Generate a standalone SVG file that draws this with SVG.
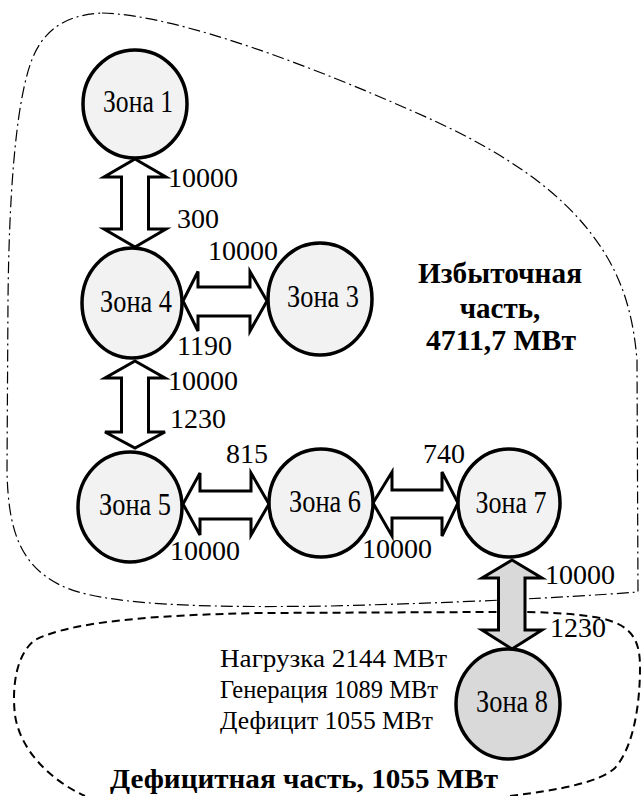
<svg xmlns="http://www.w3.org/2000/svg" width="643" height="796" viewBox="0 0 643 796">
  <style>
    .zone { fill: #f2f2f2; stroke: #000; stroke-width: 3.5; }
    .zone.deficit { fill: #d9d9d9; }
    .link { fill: #fff; stroke: #000; stroke-width: 3; stroke-linejoin: miter; }
    .link.tie { fill: #d9d9d9; }
    .surplus { fill: none; stroke: #000; stroke-width: 1.2; stroke-dasharray: 12 4 2 4; }
    .deficit-area { fill: none; stroke: #000; stroke-width: 2; stroke-dasharray: 8 5; }
  </style>

  <!-- area boundaries -->
  <g id="areas">
    <path id="surplus-area" class="surplus" d="M 102,13 C 180,15 320,70 410,110 C 480,140 540,175 580,220 C 615,260 632,300 637,360 L 638,592 C 560,598 450,603 330,606 C 200,608 100,605 60,585 C 20,565 8,530 7,470 L 8,300 C 9,200 15,110 30,65 C 40,35 60,15 102,13 Z"/>
    <path id="deficit-area" class="deficit-area" d="M 510,796 C 560,790 600,782 615,768 C 635,745 640,700 640,667 C 640,640 632,625 600,618 C 560,611 520,612 490,612 L 260,613 C 150,615 70,622 35,640 C 15,655 12,690 15,715 C 20,750 50,780 85,796"/>
  </g>

  <!-- connectors: double-headed transfer arrows -->
  <g id="connectors">
    <!-- Zone 1 <-> Zone 4 -->
    <polygon class="link" points="135,159 166,177 148.5,177 148.5,229 166,229 135,247 104,229 121.5,229 121.5,177 104,177"/>
    <!-- Zone 4 <-> Zone 3 -->
    <polygon class="link" points="183,301 198,271.5 198,287 250,287 250,271.5 267,301 250,331 250,316 198,316 198,331"/>
    <!-- Zone 4 <-> Zone 5 -->
    <polygon class="link" points="135,361 165,378 148.5,378 148.5,432 165,432 135,448 105,432 121.5,432 121.5,378 105,378"/>
    <!-- Zone 5 <-> Zone 6 -->
    <polygon class="link" points="183,504 200,473 200,491 251,491 251,473 269,504 251,535 251,519 200,519 200,535"/>
    <!-- Zone 6 <-> Zone 7 -->
    <polygon class="link" points="373,503 392,472 392,490 442,490 442,472 458,503 442,536 442,518 392,518 392,536"/>
    <!-- Zone 7 <-> Zone 8 (tie between areas) -->
    <polygon class="link tie" points="512,560 542,578 525,578 525,630 542,630 512,649 482,630 498.5,630 498.5,578 482,578"/>
  </g>

  <!-- transfer limits -->
  <g id="limits">
    <text x="168" y="187" font-family="Liberation Serif" font-size="28">10000</text>
    <text x="177" y="228" font-family="Liberation Serif" font-size="28">300</text>
    <text x="208" y="260" font-family="Liberation Serif" font-size="28">10000</text>
    <text x="177" y="355" font-family="Liberation Serif" font-size="28">1190</text>
    <text x="168" y="390" font-family="Liberation Serif" font-size="28">10000</text>
    <text x="170" y="428" font-family="Liberation Serif" font-size="28">1230</text>
    <text x="226" y="463" font-family="Liberation Serif" font-size="28">815</text>
    <text x="423" y="463" font-family="Liberation Serif" font-size="28">740</text>
    <text x="170" y="560" font-family="Liberation Serif" font-size="28">10000</text>
    <text x="362" y="558" font-family="Liberation Serif" font-size="28">10000</text>
    <text x="545" y="584" font-family="Liberation Serif" font-size="28">10000</text>
    <text x="550" y="637" font-family="Liberation Serif" font-size="28">1230</text>
  </g>

  <g id="zone1">
    <ellipse class="zone" cx="135" cy="104" rx="52" ry="54"/>
    <text x="138" y="112" font-family="Liberation Serif" font-size="31" text-anchor="middle" textLength="70" lengthAdjust="spacingAndGlyphs">Зона 1</text>
  </g>
  <g id="zone4">
    <ellipse class="zone" cx="132" cy="303" rx="50" ry="55"/>
    <text x="136" y="312" font-family="Liberation Serif" font-size="31" text-anchor="middle" textLength="72" lengthAdjust="spacingAndGlyphs">Зона 4</text>
  </g>
  <g id="zone3">
    <ellipse class="zone" cx="320" cy="299" rx="52" ry="56"/>
    <text x="323" y="307" font-family="Liberation Serif" font-size="31" text-anchor="middle" textLength="72" lengthAdjust="spacingAndGlyphs">Зона 3</text>
  </g>
  <g id="zone5">
    <ellipse class="zone" cx="130" cy="507" rx="52" ry="55"/>
    <text x="135" y="515" font-family="Liberation Serif" font-size="31" text-anchor="middle" textLength="72" lengthAdjust="spacingAndGlyphs">Зона 5</text>
  </g>
  <g id="zone6">
    <ellipse class="zone" cx="321" cy="503" rx="52" ry="54"/>
    <text x="325" y="512" font-family="Liberation Serif" font-size="31" text-anchor="middle" textLength="72" lengthAdjust="spacingAndGlyphs">Зона 6</text>
  </g>
  <g id="zone7">
    <ellipse class="zone" cx="509" cy="503" rx="51" ry="54"/>
    <text x="511" y="513" font-family="Liberation Serif" font-size="31" text-anchor="middle" textLength="71" lengthAdjust="spacingAndGlyphs">Зона 7</text>
  </g>
  <g id="zone8">
    <ellipse class="zone deficit" cx="508" cy="704" rx="52" ry="55"/>
    <text x="512" y="712" font-family="Liberation Serif" font-size="31" text-anchor="middle" textLength="72" lengthAdjust="spacingAndGlyphs">Зона 8</text>
  </g>

  <!-- surplus area caption -->
  <g id="surplus-caption">
    <text x="500" y="283" font-family="Liberation Serif" font-size="29" font-weight="bold" text-anchor="middle" textLength="164" lengthAdjust="spacingAndGlyphs">Избыточная</text>
    <text x="500" y="318" font-family="Liberation Serif" font-size="29" font-weight="bold" text-anchor="middle">часть,</text>
    <text x="501" y="350" font-family="Liberation Serif" font-size="29" font-weight="bold" text-anchor="middle" textLength="150" lengthAdjust="spacingAndGlyphs">4711,7 МВт</text>
  </g>

  <!-- deficit area balance -->
  <g id="deficit-balance">
    <text x="220" y="667" font-family="Liberation Serif" font-size="26" textLength="227" lengthAdjust="spacingAndGlyphs">Нагрузка 2144 МВт</text>
    <text x="220" y="698" font-family="Liberation Serif" font-size="26" textLength="218" lengthAdjust="spacingAndGlyphs">Генерация 1089 МВт</text>
    <text x="220" y="729" font-family="Liberation Serif" font-size="26" textLength="213" lengthAdjust="spacingAndGlyphs">Дефицит 1055 МВт</text>
  </g>
  <g id="deficit-caption">
    <text x="110" y="788" font-family="Liberation Serif" font-size="28" font-weight="bold" textLength="388" lengthAdjust="spacingAndGlyphs">Дефицитная часть, 1055 МВт</text>
  </g>
</svg>
